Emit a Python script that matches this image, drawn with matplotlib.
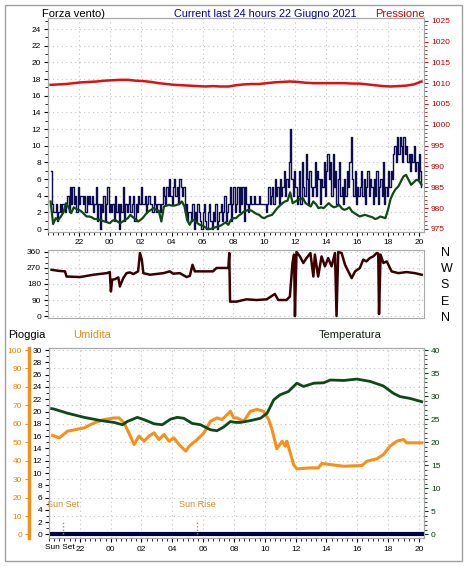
import numpy as np
import matplotlib
matplotlib.use('Agg')
import matplotlib.pyplot as plt
from matplotlib.patches import Rectangle
from matplotlib.ticker import MultipleLocator

plt.rcParams['font.family'] = ['Liberation Sans', 'DejaVu Sans']

# ---- data (hours from 00:00 of 21 June, so 24 = 00:00 of 22 June) ----
t_start = 20 + 10 / 60  # first sample 20:10

# wind gusts, 5 min samples
gust = [7, 3, 2, 2, 3, 1, 2, 3, 2, 3, 3, 2,
        3, 4, 2, 5, 3, 5, 3, 4, 2, 5, 3, 4,
        4, 3, 4, 2, 4, 3, 4, 3, 4, 2, 3, 5,
        1, 3, 0, 3, 2, 4, 1, 3, 5, 2, 3, 2,
        3, 1, 4, 2, 3, 0, 3, 2, 5, 1, 3, 2,
        3, 4, 2, 3, 4, 1, 3, 2, 4, 3, 5, 3,
        3, 4, 2, 3, 4, 3, 3, 2, 4, 3, 2, 3,
        3, 2, 3, 5, 4, 3, 5, 4, 6, 4, 3, 5,
        6, 4, 5, 3, 6, 5, 4, 5, 2, 3, 1, 2,
        2, 1, 3, 0, 2, 1, 3, 2, 1, 0, 2, 3,
        1, 0, 2, 3, 1, 0, 2, 1, 3, 0, 1, 2,
        3, 1, 2, 4, 1, 2, 3, 5, 1, 3, 5, 2,
        3, 5, 2, 5, 3, 5, 1, 5, 3, 2, 3, 4,
        3, 3, 4, 3, 3, 3, 4, 3, 3, 3, 3, 2,
        3, 5, 3, 4, 5, 3, 6, 4, 5, 3, 6, 4,
        5, 7, 4, 6, 5, 8, 12, 6, 4, 7, 5, 3,
        4, 7, 3, 8, 5, 4, 9, 6, 3, 7, 5, 4,
        5, 8, 4, 7, 6, 3, 6, 5, 8, 4, 7, 9,
        6, 8, 4, 9, 5, 7, 3, 6, 8, 4, 5, 3,
        6, 4, 7, 5, 8, 11, 6, 4, 7, 3, 5, 4,
        5, 7, 4, 6, 3, 5, 7, 4, 6, 5, 3, 6,
        4, 7, 3, 5, 6, 4, 8, 3, 5, 4, 7, 5,
        7, 6, 9, 10, 8, 11, 9, 11, 10, 8, 11, 9,
        10, 8, 9, 7, 9, 8, 10, 7, 8, 6, 9, 7,
        5]
t_gust = t_start + np.arange(len(gust)) * 5 / 60

# average wind, 10 min samples
avg = [3.3, 0.6, 1.3, 1.1, 1.5, 2.0,
       3.1, 2.6, 1.9, 2.6, 2.4, 2.3,
       2.1, 1.8, 1.5, 1.5, 1.4, 1.2,
       1.2, 1.1, 1.0, 0.9, 0.8, 0.7,
       1.0, 1.1, 0.9, 0.7, 0.9, 1.1,
       1.3, 1.7, 1.4, 1.2, 0.9, 1.1,
       1.4, 1.8, 2.1, 2.3, 2.5, 2.3,
       2.2, 0.9, 2.7, 2.8, 2.9, 2.8,
       2.8, 2.9, 3.0, 3.3, 2.7, 1.1,
       0.5, 1.1, 1.0, 0.7, 0.5, 0.4,
       0.2, 0.0, 0.0, 0.1, 0.2, 0.3,
       0.4, 0.6, 0.8, 0.5, 1.1, 1.3,
       1.3, 1.6, 1.8, 2.1, 2.2, 2.3,
       2.2, 2.0, 1.8, 1.7, 1.4, 1.3,
       1.5, 1.6, 1.7, 2.1, 2.5, 2.8,
       3.1, 3.3, 3.4, 4.4, 3.1, 3.3,
       3.5, 3.6, 3.7, 3.1, 2.9, 2.7,
       3.3, 3.0, 2.5, 2.6, 2.5, 2.8,
       3.1, 2.8, 2.6, 2.7, 2.9, 2.5,
       2.3, 2.4, 2.6, 2.1, 1.9, 1.7,
       1.5, 1.6, 1.7, 1.6, 1.5, 1.4,
       1.2, 1.3, 1.5, 1.4, 1.3, 2.3,
       3.6, 4.3, 4.8, 5.1, 5.7, 6.3,
       6.5, 5.9, 5.3, 5.6, 5.9, 5.8,
       5.3]
t_avg = t_start + np.arange(len(avg)) * 10 / 60

# pressure, 30 min samples
press = [1009.6, 1009.7, 1009.8, 1010.0, 1010.2, 1010.3, 1010.4, 1010.6,
         1010.7, 1010.8, 1010.8, 1010.6, 1010.5, 1010.3, 1010.0, 1009.8,
         1009.6, 1009.5, 1009.4, 1009.3, 1009.2, 1009.3, 1009.2, 1009.2,
         1009.5, 1009.7, 1009.8, 1009.8, 1010.0, 1010.2, 1010.3, 1010.4,
         1010.3, 1010.1, 1010.0, 1010.0, 1010.0, 1010.0, 1010.0, 1009.9,
         1009.9, 1009.7, 1009.5, 1009.3, 1009.2, 1009.3, 1009.4, 1009.7,
         1010.4]
t_press = t_start + np.arange(len(press)) * 0.5

# wind direction
t_dir = [20.23, 20.67, 21.10, 21.20, 22.07, 22.93, 23.80, 24.00, 24.07, 24.15,
         24.33, 24.55, 24.65, 24.87, 25.08, 25.30, 25.52, 25.83, 25.95, 26.07,
         26.17, 26.60, 27.47, 27.88, 28.10, 28.53, 28.97, 29.18, 29.35, 29.50,
         30.68, 30.90, 31.67, 31.73, 31.78, 32.20, 32.85, 33.50, 34.15, 34.68,
         34.90, 35.43, 35.65, 35.82, 35.92, 35.98, 36.08, 36.30, 36.52, 36.73,
         36.98, 37.17, 37.27, 37.48, 37.70, 37.92, 38.13, 38.35, 38.57, 38.67,
         38.78, 39.00, 39.22, 39.43, 39.65, 39.87, 40.18, 40.40, 40.60, 40.83,
         41.05, 41.27, 41.37, 41.42, 41.52, 41.70, 41.92, 42.23, 42.67, 43.20,
         43.75, 44.18]
wdir = [260, 254, 251, 222, 219, 232, 241, 247, 138, 204,
        207, 217, 166, 213, 241, 245, 236, 251, 354, 317,
        241, 232, 241, 251, 238, 241, 219, 226, 288, 251,
        251, 270, 270, 354, 81, 81, 94, 90, 94, 124,
        90, 90, 109, 298, 345, 0, 360, 335, 298, 326,
        354, 222, 345, 222, 335, 279, 326, 279, 354, 0,
        360, 354, 288, 251, 213, 251, 270, 317, 307, 326,
        335, 354, 351, 11, 345, 298, 307, 251, 241, 247,
        241, 232]

# temperature
t_temp = [20.17, 20.33, 21.20, 22.28, 23.37, 24.22, 24.77, 25.08, 25.73, 26.17,
          26.82, 27.35, 27.88, 28.32, 28.75, 29.28, 29.83, 30.48, 30.90, 31.33,
          31.77, 32.10, 32.42, 33.07, 33.72, 34.15, 34.58, 35.00, 35.53, 36.08,
          36.52, 37.17, 37.82, 38.25, 39.12, 39.97, 40.83, 41.70, 42.35, 42.78,
          43.43, 44.18]
temp = [27.3, 27.2, 26.3, 25.4, 24.7, 24.3, 23.8, 24.5, 25.4, 24.9,
        24.0, 23.8, 25.0, 25.4, 25.2, 24.1, 23.8, 22.7, 22.5, 23.3,
        24.5, 24.3, 24.3, 24.7, 25.2, 26.3, 29.2, 30.3, 31.0, 32.8,
        32.1, 32.8, 32.9, 33.5, 33.4, 33.7, 33.2, 32.2, 30.6, 29.9,
        29.5, 28.8]

# humidity
t_hum = [20.23, 20.67, 21.20, 22.28, 22.93, 23.57, 24.22, 24.55, 24.87, 25.18,
         25.52, 25.83, 26.17, 26.48, 26.82, 27.13, 27.47, 27.78, 28.10, 28.43,
         28.87, 29.10, 29.62, 30.05, 30.48, 30.90, 31.23, 31.45, 31.77, 31.98,
         32.20, 32.63, 33.07, 33.50, 33.93, 34.25, 34.47, 34.78, 35.12, 35.33,
         35.43, 35.65, 35.87, 36.08, 36.95, 37.48, 37.70, 38.25, 39.12, 40.30,
         40.62, 41.27, 41.70, 42.13, 42.57, 43.00, 43.20, 44.18]
hum = [53.7, 52.4, 56.0, 57.8, 60.5, 62.3, 63.2, 63.2, 60.5, 55.1,
       48.8, 53.3, 50.6, 53.3, 55.1, 51.5, 54.2, 50.6, 52.4, 48.8,
       45.2, 47.9, 51.5, 55.1, 61.4, 63.2, 62.3, 64.1, 66.8, 63.2,
       63.2, 61.4, 66.8, 67.8, 66.8, 62.3, 56.9, 46.5, 50.5, 47.9,
       50.6, 44.3, 37.9, 35.6, 36.1, 36.1, 38.5, 37.9, 37.0, 37.4,
       39.7, 41.0, 43.4, 47.9, 50.6, 51.5, 49.7, 49.7]

# rain
t_rain = [20.17, 44.18]
rain = [0, 0]

sunset = 20.9
sunrise = 29.63

xt = np.arange(22, 45, 2)
xlab = ['%02d' % (h % 24) for h in xt]
xlim = (20.0, 44.33)

grey = '#a8a8a8'
gridkw = dict(color='#c4c4c4', linestyle=(0, (1, 3)), linewidth=0.8)
tickfs = 6


def style(ax):
    for s in ax.spines.values():
        s.set_color(grey)
    ax.tick_params(labelsize=tickfs, length=3, width=0.8, pad=2)
    ax.tick_params(which='minor', length=2, width=0.6)


fig = plt.figure(figsize=(4.7, 5.67), dpi=100)
fig.add_artist(Rectangle((5 / 470, 1 - 561 / 567), 457 / 470, 556 / 567,
                         transform=fig.transFigure, fill=False,
                         ec='#a0a0a0', lw=1))

# ---------------- wind / pressure ----------------
ax1 = fig.add_axes([48 / 470, 1 - 232 / 567, 376 / 470, 214 / 567])
style(ax1)
ax1.set_xlim(xlim)
ax1.set_ylim(-0.36, 25.32)
ax1.set_yticks(np.arange(0, 25, 2))
ax1.yaxis.set_minor_locator(MultipleLocator(1))
ax1.set_xticks(xt)
ax1.set_xticklabels(xlab)
ax1.xaxis.set_minor_locator(MultipleLocator(1 / 3))
ax1.grid(True, **gridkw)
ax1.step(t_gust, gust, where='post', color='#0c0c50', lw=1.0)
ax1.plot(t_avg, avg, color='#0e4a12', lw=1.6)

ax1r = ax1.twinx()
style(ax1r)
ax1r.set_ylim(975 - 0.72, 975 + 2 * 25.32)
ax1r.set_yticks(np.arange(975, 1026, 5))
ax1r.yaxis.set_minor_locator(MultipleLocator(1))
ax1r.tick_params(axis='y', which='both', colors='#d01010', labelcolor='#c00000')
ax1r.plot(t_press, press, color='#e01010', lw=1.8)

fig.text(42 / 470, 1 - 14 / 567, 'Forza vento)', fontsize=8, va='center')
fig.text(265 / 470, 1 - 14 / 567, 'Current last 24 hours 22 Giugno 2021',
         fontsize=7.8, color='#0000a8', va='center', ha='center')
fig.text(425 / 470, 1 - 14 / 567, 'Pressione', fontsize=8, color='#d00000',
         va='center', ha='right')

# ---------------- wind direction ----------------
ax2 = fig.add_axes([48 / 470, 1 - 318 / 567, 376 / 470, 68 / 567])
style(ax2)
ax2.set_xlim(xlim)
ax2.set_ylim(-11, 371)
ax2.set_yticks([0, 90, 180, 270, 360])
ax2.yaxis.set_minor_locator(MultipleLocator(30))
ax2.set_xticks(xt)
ax2.set_xticklabels([])
ax2.tick_params(axis='x', length=0)
ax2.grid(True, **gridkw)
ax2.plot(t_dir, wdir, color='#3c0000', lw=1.8)

ax2r = ax2.twinx()
ax2r.set_ylim(-11, 371)
ax2r.set_yticks([360, 270, 180, 90, 0])
ax2r.set_yticklabels(['N', 'W', 'S', 'E', 'N'])
ax2r.tick_params(axis='y', length=0, pad=12, labelsize=9)
for s in ax2r.spines.values():
    s.set_visible(False)

# ---------------- rain / humidity / temperature ----------------
ax3 = fig.add_axes([49 / 470, 1 - 538 / 567, 375 / 470, 190 / 567])
style(ax3)
ax3.spines['left'].set_color('#606060')
ax3.set_xlim(xlim)
rlim = (-0.57, 30.33)
ax3.set_ylim(rlim)
ax3.set_yticks(np.arange(0, 31, 2))
ax3.yaxis.set_minor_locator(MultipleLocator(1))
ax3.set_xticks(xt)
ax3.set_xticklabels(xlab)
ax3.xaxis.set_minor_locator(MultipleLocator(1 / 3))
ax3.tick_params(axis='x', pad=3)
ax3.grid(True, axis='x', **gridkw)

ax3h = ax3.twinx()
ax3h.set_ylim(rlim[0] * 100 / 30, rlim[1] * 100 / 30)
ax3h.yaxis.set_ticks_position('left')
ax3h.yaxis.set_label_position('left')
ax3h.spines['left'].set_position(('axes', -20 / 375))
ax3h.spines['left'].set_visible(True)
ax3h.spines['left'].set_color('#f39019')
ax3h.spines['left'].set_linewidth(2.5)
for s in ('right', 'top', 'bottom'):
    ax3h.spines[s].set_visible(False)
ax3h.set_yticks(np.arange(0, 101, 10))
ax3h.tick_params(axis='y', labelsize=tickfs, length=3, pad=2,
                 colors='#f39019', labelcolor='#f08000')
ax3h.grid(True, axis='y', **gridkw)
ax3h.plot(t_hum, hum, color='#f7901a', lw=2.2)

ax3t = ax3.twinx()
style(ax3t)
ax3t.set_ylim(rlim[0] * 40 / 30, rlim[1] * 40 / 30)
ax3t.set_yticks(np.arange(0, 41, 5))
ax3t.yaxis.set_minor_locator(MultipleLocator(1))
ax3t.tick_params(axis='y', which='both', colors='#0a3a10', labelcolor='#0a3a10')
ax3t.plot(t_temp, temp, color='#0c4a16', lw=2)
ax3t.plot(t_rain, [r * 40 / 30 for r in rain], color='#000040', lw=3)

for t, name in ((sunset, 'Sun Set'), (sunrise, 'Sun Rise')):
    ax3t.plot([t, t], [0, 3.2], color='#d88420', lw=1.0,
              linestyle=(0, (1, 1.5)))
    ax3.text(t, 4.8, name, fontsize=6.5, color='#e08a20', ha='center',
             va='center', clip_on=False)
ax3.text(sunset - 0.2, -0.032, 'Sun Set', fontsize=tickfs, ha='center',
         va='top', transform=ax3.get_xaxis_transform())

fig.text(8 / 470, 1 - 335 / 567, 'Pioggia', fontsize=8, va='center')
fig.text(73 / 470, 1 - 335 / 567, 'Umidita', fontsize=8, va='center',
         color='#f08a20')
fig.text(350 / 470, 1 - 335 / 567, 'Temperatura', fontsize=8, va='center',
         ha='center', color='#102010')

fig.savefig('out.png', dpi=100)
